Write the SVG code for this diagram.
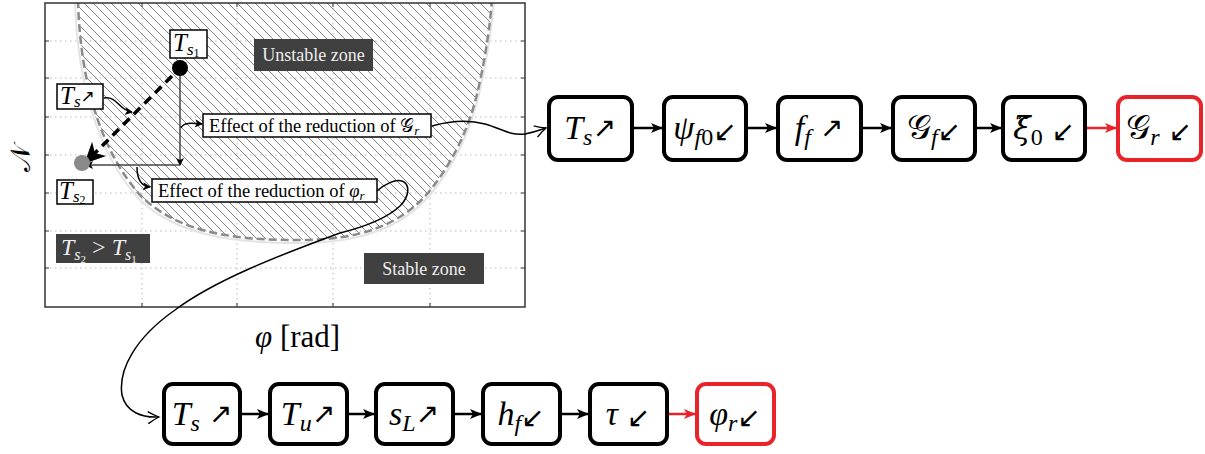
<svg xmlns="http://www.w3.org/2000/svg" width="1205" height="454" viewBox="0 0 1205 454">
<style>
text{font-family:"Liberation Serif","DejaVu Serif",serif;fill:#000}
.it{font-style:italic}
.up{font-style:normal}
.ar{font-family:"DejaVu Sans",sans-serif;font-style:normal}
.cal{font-family:"DejaVu Sans","DejaVu Serif",serif;font-style:normal}
.dv{font-family:"DejaVu Serif",serif;font-style:italic}
.grid{stroke:#b8b8b8;stroke-width:1;stroke-dasharray:1.5,3.5;fill:none}
.tick{stroke:#333;stroke-width:1}
.lbl{fill:#fff;stroke:#000;stroke-width:1.5}
.dark{fill:#404040}
.wt{fill:#eee}
.box{fill:#fff;stroke:#000;stroke-width:4}
.rbox{fill:#fff;stroke:#e8232a;stroke-width:4}
.link{stroke:#000;stroke-width:2.5;fill:none}
.rlink{stroke:#e8232a;stroke-width:2.5;fill:none}
.thin{stroke:#444;stroke-width:1.5;fill:none}
.cur{stroke:#000;stroke-width:1.5;fill:none}
.ct{font-size:34px;font-style:italic}
</style>
<defs>
<pattern id="hatch" patternUnits="userSpaceOnUse" width="9" height="9">
<path d="M0,0 L9,9 M-2,7 L2,11 M7,-2 L11,2" stroke="#666" stroke-width="0.8"/>
</pattern>
<marker id="ah" markerUnits="userSpaceOnUse" markerWidth="14" markerHeight="12" refX="11" refY="5" orient="auto">
<path d="M0,0 L12,5 L0,10 L3,5 z" fill="#000"/>
</marker>
<marker id="ahr" markerUnits="userSpaceOnUse" markerWidth="14" markerHeight="12" refX="11" refY="5" orient="auto">
<path d="M0,0 L12,5 L0,10 L3,5 z" fill="#e8232a"/>
</marker>
<marker id="open" markerUnits="userSpaceOnUse" markerWidth="16" markerHeight="14" refX="12" refY="7" orient="auto">
<path d="M1,1 Q7,5 12,7 Q7,9 1,13" fill="none" stroke="#000" stroke-width="1.3"/>
</marker>
<marker id="small" markerUnits="userSpaceOnUse" markerWidth="10" markerHeight="10" refX="7" refY="4" orient="auto">
<path d="M0,0 L8,4 L0,8 L2,4 z" fill="#000"/>
</marker>
<marker id="big" markerUnits="userSpaceOnUse" markerWidth="24" markerHeight="22" refX="20" refY="10" orient="auto">
<path d="M0,0 L21,10 L0,20 L6,10 z" fill="#000"/>
</marker>
<clipPath id="plotclip"><rect x="45" y="3" width="480" height="304"/></clipPath>
</defs>

<g id="plot">
<rect x="45" y="3" width="480" height="304" fill="#fff"/>
<g class="grid">
<path d="M142,3 V307 M237,3 V307 M333,3 V307 M430,3 V307"/>
<path d="M45,41 H525 M45,78 H525 M45,117 H525 M45,155 H525 M45,193 H525 M45,231 H525 M45,268 H525"/>
</g>
<g clip-path="url(#plotclip)">
<path id="zone" d="M78,0 C80,80 100,150 140,195 C180,235 240,240 300,240 C360,240 400,225 428,193 C455,160 470,125 478,90 C486,55 490,25 492,0 Z" fill="url(#hatch)"/>
<path d="M75,0 C77,80 97,152 138,198 C178,238 240,243 300,243 C362,243 402,227 430,195 C457,162 472,126 480,90 C488,55 492,25 494,0" fill="none" stroke="#e4e4e4" stroke-width="2"/>
<path d="M78,0 C80,80 100,150 140,195 C180,235 240,240 300,240 C360,240 400,225 428,193 C455,160 470,125 478,90 C486,55 490,25 492,0" fill="none" stroke="#8a8a8a" stroke-width="2.5" stroke-dasharray="8,4"/>
</g>
<g class="tick">
<path d="M45,41 h4 M45,78 h4 M45,117 h4 M45,155 h4 M45,193 h4 M45,231 h4 M45,268 h4"/>
<path d="M525,41 h-4 M525,78 h-4 M525,117 h-4 M525,155 h-4 M525,193 h-4 M525,231 h-4 M525,268 h-4"/>
<path d="M142,307 v-4 M237,307 v-4 M333,307 v-4 M430,307 v-4"/>
<path d="M142,3 v4 M237,3 v4 M333,3 v4 M430,3 v4"/>
</g>
<rect x="45" y="3" width="480" height="304" fill="none" stroke="#333" stroke-width="1.5"/>
<text x="255" y="347" font-size="31"><tspan class="it">φ</tspan><tspan class="up">  [rad]</tspan></text>
<text x="0" y="0" font-size="28" transform="translate(30,158) rotate(-90)" text-anchor="middle"><tspan class="cal">𝒩</tspan></text>
</g>

<g id="zone-labels">
<rect class="dark" x="254" y="39" width="119" height="32"/>
<text class="wt" x="313.5" y="61" font-size="18" text-anchor="middle">Unstable zone</text>
<rect class="dark" x="364" y="253" width="120" height="31"/>
<text class="wt" x="424" y="275" font-size="18" text-anchor="middle">Stable zone</text>
<rect class="dark" x="56" y="234" width="94" height="29"/>
<text class="wt it" x="61" y="255" font-size="24">T<tspan font-size="16" dy="5">s</tspan><tspan font-size="11" dy="3" class="up">2</tspan><tspan dy="-8" class="up"> &gt; </tspan>T<tspan font-size="16" dy="5">s</tspan><tspan font-size="11" dy="3" class="up">1</tspan></text>
</g>

<g id="path-lines">
<path class="thin" d="M180,68 V165" marker-end="url(#small)"/>
<path class="thin" d="M180,165 H86" marker-end="url(#small)"/>
<path d="M172,76 L85,163" stroke="#000" stroke-width="3.5" stroke-dasharray="9,6" fill="none" marker-end="url(#big)"/>
<path class="cur" d="M104,98 C118,96 118,110 132,112" marker-end="url(#small)"/>
<path class="cur" d="M181,128 C183,122 192,123 202,124" marker-end="url(#small)"/>
<path class="cur" d="M137,167 C137,178 140,186 150,187" marker-end="url(#small)"/>
</g>

<g id="ts1">
<circle cx="180" cy="68" r="8" fill="#000"/>
<rect class="lbl" x="170" y="30" width="37" height="28"/>
<text class="it" x="173" y="51" font-size="25">T<tspan font-size="17" dy="4">s</tspan><tspan font-size="12" dy="2" class="up">1</tspan></text>
</g>
<g id="ts2">
<circle cx="82" cy="163" r="8" fill="#8a8a8a"/>
<rect class="lbl" x="57" y="180" width="36" height="24"/>
<text class="it" x="59" y="199" font-size="25">T<tspan font-size="17" dy="3">s</tspan><tspan font-size="12" dy="2" class="up">2</tspan></text>
</g>
<g id="tsup">
<rect class="lbl" x="57" y="84" width="46" height="25"/>
<text class="it" x="60" y="104" font-size="25">T<tspan font-size="17" dy="3">s</tspan><tspan class="ar" font-size="17" dy="-5">↗</tspan></text>
</g>
<g id="effect-gr">
<rect class="lbl" x="203" y="114" width="228" height="23"/>
<text x="209" y="132" font-size="18.5">Effect of the reduction of <tspan class="cal">𝒢</tspan><tspan class="it" font-size="13" dy="3">r</tspan></text>
</g>
<g id="effect-phir">
<rect class="lbl" x="152" y="179" width="225" height="23"/>
<text x="158" y="197" font-size="18.5">Effect of the reduction of <tspan class="it">φ</tspan><tspan class="it" font-size="13" dy="3">r</tspan></text>
</g>

<g id="connectors">
<path class="cur" d="M432,126 C450,121 470,120 485,124 C500,128 510,136 525,134 C535,132 540,130 546,128" marker-end="url(#open)"/>
<path class="cur" d="M377,191 C385,184 395,179 402,181 C410,184 410,196 400,206 C385,220 360,228 340,233 C280,255 215,280 175,310 C135,338 118,370 122,395 C126,412 142,418 159,417" marker-end="url(#open)"/>
<path class="link" d="M632,128 H662" marker-end="url(#ah)"/>
<path class="link" d="M746,128 H776" marker-end="url(#ah)"/>
<path class="link" d="M861,128 H891" marker-end="url(#ah)"/>
<path class="link" d="M975,128 H1001" marker-end="url(#ah)"/>
<path class="rlink" d="M1085,128 H1116" marker-end="url(#ahr)"/>
<path class="link" d="M240,414 H268" marker-end="url(#ah)"/>
<path class="link" d="M347,414 H374" marker-end="url(#ah)"/>
<path class="link" d="M453,414 H481" marker-end="url(#ah)"/>
<path class="link" d="M560,414 H588" marker-end="url(#ah)"/>
<path class="rlink" d="M667,414 H695" marker-end="url(#ahr)"/>
</g>

<g id="r1"><rect class="box" x="549" y="97" width="83" height="63" rx="9"/>
<text class="ct" x="590" y="139" text-anchor="middle">T<tspan font-size="24" dy="6">s</tspan><tspan class="ar" font-size="28" dy="-8">↗</tspan></text></g>
<g id="r2"><rect class="box" x="664" y="97" width="82" height="63" rx="9"/>
<text class="ct" x="705" y="139" text-anchor="middle">ψ<tspan font-size="24" dy="6">f</tspan><tspan class="up" font-size="24">0</tspan><tspan class="ar" font-size="28" dy="-4">↙</tspan></text></g>
<g id="r3"><rect class="box" x="778" y="97" width="83" height="63" rx="9"/>
<text class="ct" x="819" y="139" text-anchor="middle">f<tspan font-size="24" dy="6">f</tspan><tspan class="ar" font-size="28" dy="-8"> ↗</tspan></text></g>
<g id="r4"><rect class="box" x="893" y="97" width="82" height="63" rx="9"/>
<text class="ct" x="934" y="139" text-anchor="middle"><tspan class="cal">𝒢</tspan><tspan font-size="24" dy="6">f</tspan><tspan class="ar" font-size="28" dy="-4">↙</tspan></text></g>
<g id="r5"><rect class="box" x="1003" y="97" width="82" height="63" rx="9"/>
<text class="ct" x="1044" y="139" text-anchor="middle"><tspan class="dv" font-size="32">ξ̃</tspan><tspan class="up" font-size="24" dy="6">0</tspan><tspan class="ar" font-size="28" dy="-4"> ↙</tspan></text></g>
<g id="r6"><rect class="rbox" x="1118" y="97" width="83" height="63" rx="9"/>
<text class="ct" x="1159" y="139" text-anchor="middle"><tspan class="cal">𝒢</tspan><tspan font-size="24" dy="6">r</tspan><tspan class="ar" font-size="28" dy="-4"> ↙</tspan></text></g>

<g id="b1"><rect class="box" x="164" y="384" width="76" height="60" rx="9"/>
<text class="ct" x="202" y="425" text-anchor="middle">T<tspan font-size="24" dy="6">s</tspan><tspan class="ar" font-size="28" dy="-8"> ↗</tspan></text></g>
<g id="b2"><rect class="box" x="270" y="384" width="77" height="60" rx="9"/>
<text class="ct" x="308" y="425" text-anchor="middle">T<tspan font-size="24" dy="6">u</tspan><tspan class="ar" font-size="28" dy="-8">↗</tspan></text></g>
<g id="b3"><rect class="box" x="376" y="384" width="77" height="60" rx="9"/>
<text class="ct" x="414" y="425" text-anchor="middle">s<tspan font-size="24" dy="6">L</tspan><tspan class="ar" font-size="28" dy="-8">↗</tspan></text></g>
<g id="b4"><rect class="box" x="483" y="384" width="77" height="60" rx="9"/>
<text class="ct" x="521" y="425" text-anchor="middle">h<tspan font-size="24" dy="6">f</tspan><tspan class="ar" font-size="28" dy="-4">↙</tspan></text></g>
<g id="b5"><rect class="box" x="590" y="384" width="77" height="60" rx="9"/>
<text class="ct" x="628" y="425" text-anchor="middle">τ<tspan class="ar" font-size="28" dy="2"> ↙</tspan></text></g>
<g id="b6"><rect class="rbox" x="697" y="384" width="77" height="60" rx="9"/>
<text class="ct" x="735" y="425" text-anchor="middle">φ<tspan font-size="24" dy="6">r</tspan><tspan class="ar" font-size="28" dy="-4">↙</tspan></text></g>
</svg>
